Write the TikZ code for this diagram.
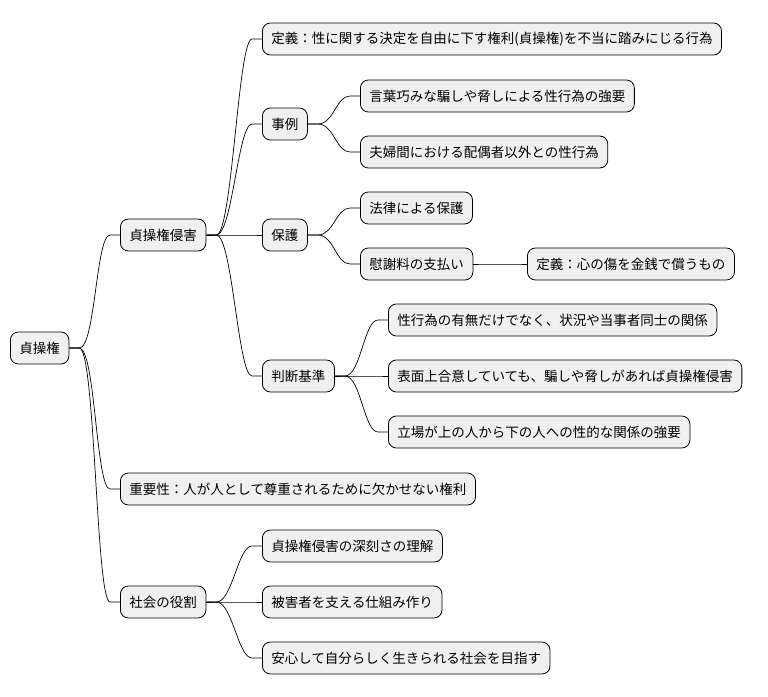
\documentclass[tikz,border=0pt]{standalone}
\usepackage{fontspec}
\setmainfont{Noto Sans CJK JP}
\usetikzlibrary{calc}
\begin{document}
\begin{tikzpicture}[x=1pt,y=-1pt,
  box/.style={draw=black,line width=0.8pt,fill=black!6,rounded corners=8pt,anchor=west,
    minimum height=32pt,inner xsep=9pt,font=\fontsize{13.5}{15}\selectfont},
  link/.style={line width=0.7pt}]
\useasboundingbox (0,0) rectangle (768,696);
\node[box] (r) at (10,348) {貞操権};
\node[box] (a) at (120,235) {貞操権侵害};
\node[box] (b) at (120,489) {重要性：人が人として尊重されるために欠かせない権利};
\node[box] (c) at (120,602) {社会の役割};
\node[box] (a1) at (262,39) {定義：性に関する決定を自由に下す権利(貞操権)を不当に踏みにじる行為};
\node[box] (a2) at (262,124) {事例};
\node[box] (a3) at (262,235) {保護};
\node[box] (a4) at (262,376) {判断基準};
\node[box] (a21) at (360,96) {言葉巧みな騙しや脅しによる性行為の強要};
\node[box] (a22) at (360,152) {夫婦間における配偶者以外との性行為};
\node[box] (a31) at (360,208) {法律による保護};
\node[box] (a32) at (360,264) {慰謝料の支払い};
\node[box] (a321) at (527,264) {定義：心の傷を金銭で償うもの};
\node[box] (a41) at (388,320) {性行為の有無だけでなく、状況や当事者同士の関係};
\node[box] (a42) at (388,376) {表面上合意していても、騙しや脅しがあれば貞操権侵害};
\node[box] (a43) at (388,432) {立場が上の人から下の人への性的な関係の強要};
\node[box] (c1) at (262,546) {貞操権侵害の深刻さの理解};
\node[box] (c2) at (262,602) {被害者を支える仕組み作り};
\node[box] (c3) at (262,658) {安心して自分らしく生きられる社会を目指す};
\foreach \p/\c in {r/a,r/b,r/c,a/a1,a/a2,a/a3,a/a4,a2/a21,a2/a22,a3/a31,a3/a32,a32/a321,a4/a41,a4/a42,a4/a43,c/c1,c/c2,c/c3}
  \draw[link] (\p.east) -- ++(10,0) .. controls +(16,0) and ($(\c.west)+(-24,0)$) .. ($(\c.west)+(-10,0)$) -- (\c.west);
\end{tikzpicture}
\end{document}
